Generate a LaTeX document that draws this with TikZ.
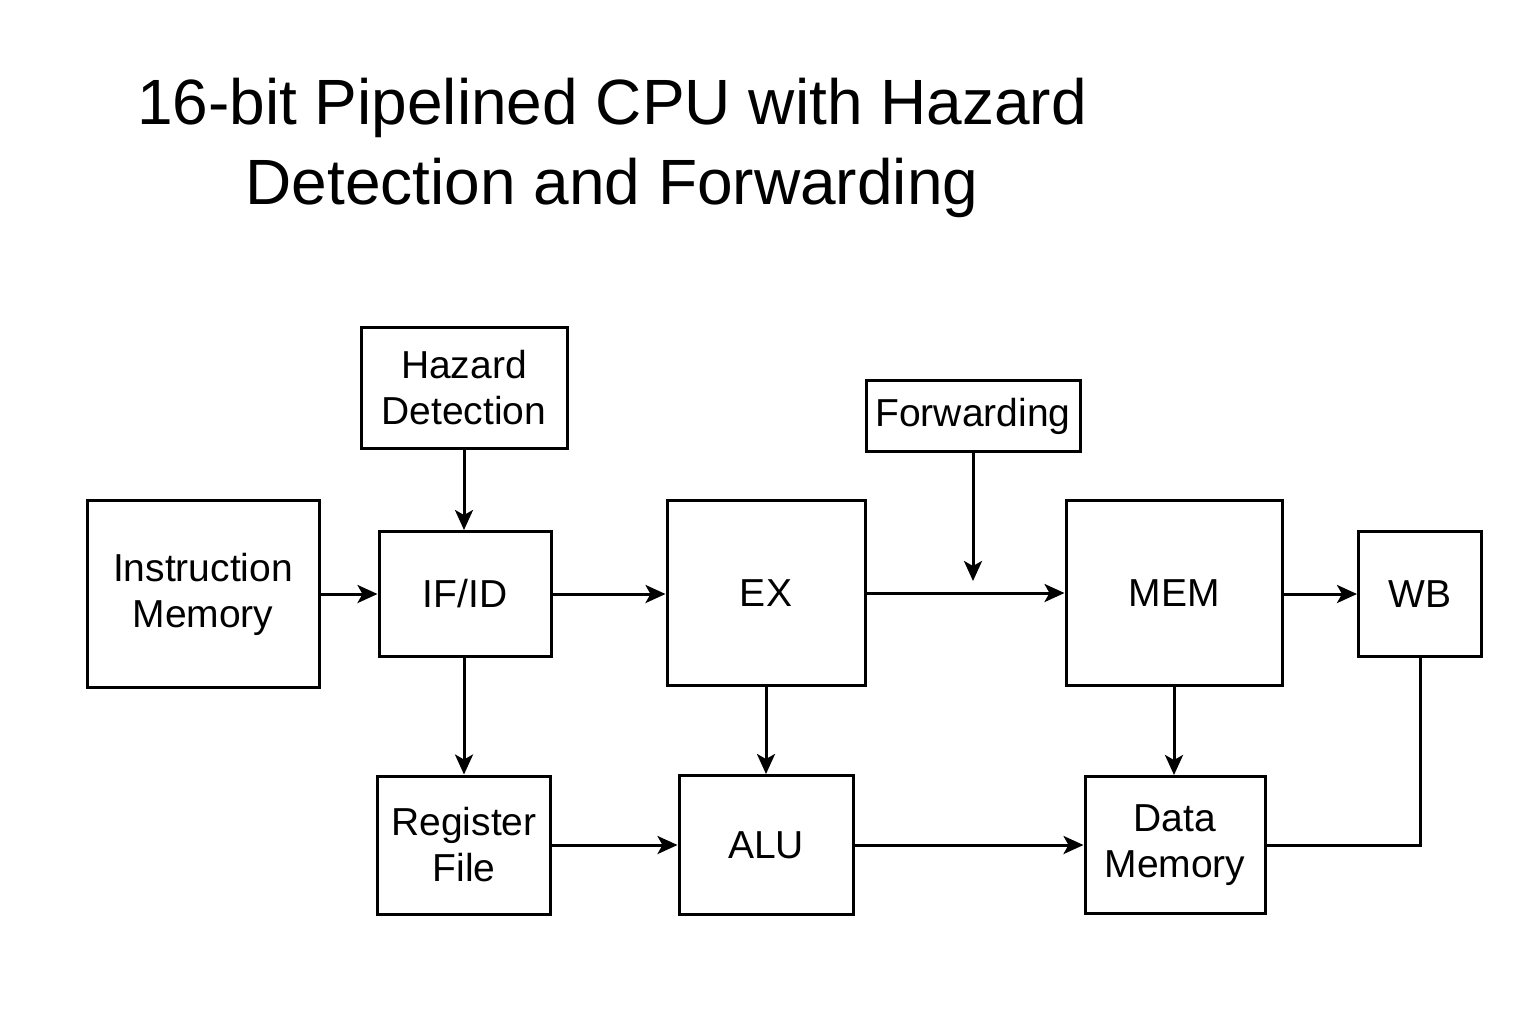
\documentclass[tikz,border=0pt]{standalone}
\usepackage{fontspec}
\setmainfont{Liberation Sans}
\usetikzlibrary{arrows.meta}
\begin{document}
\begin{tikzpicture}[x=0.5pt,y=-0.5pt,
  blk/.style={draw,line width=1.5pt,inner sep=0pt,align=center,font=\fontsize{19.5}{23}\selectfont},
  arr/.style={line width=1.5pt,-{Stealth[length=10pt,width=9pt,inset=2.5pt]}},
  ln/.style={line width=1.5pt}]
\useasboundingbox (0,0) rectangle (1536,1024);
\node[align=center,font=\fontsize{32}{40}\selectfont] (title) at (612,148) {16-bit Pipelined CPU with Hazard\\Detection and Forwarding};
\node[blk,minimum width=103pt,minimum height=60.5pt] (haz) at (464,388) {Hazard\\Detection};
\node[blk,minimum width=107pt,minimum height=35.5pt] (fwd) at (973,416) {Forwarding};
\node[blk,minimum width=116pt,minimum height=93.5pt] (im) at (203,594) {Instruction\\Memory};
\node[blk,minimum width=86pt,minimum height=62.5pt] (ifid) at (465,594) {IF/ID};
\node[blk,minimum width=99pt,minimum height=92.5pt] (ex) at (766,593) {EX};
\node[blk,minimum width=108pt,minimum height=92.5pt] (mem) at (1174,593) {MEM};
\node[blk,minimum width=61.5pt,minimum height=62.5pt] (wb) at (1420,594) {WB};
\node[blk,minimum width=86.5pt,minimum height=69pt] (rf) at (464,845) {Register\\File};
\node[blk,minimum width=87pt,minimum height=69.5pt] (alu) at (766,845) {ALU};
\node[blk,minimum width=90pt,minimum height=68.5pt] (dm) at (1175,845) {Data\\Memory};
\coordinate (fwdend) at (973,581);
\draw[arr] (im.east |- ifid) -- (ifid.west);
\draw[arr] (haz.south) -- (haz.south |- ifid.north);
\draw[arr] (ifid.east) -- (ifid.east -| ex.west);
\draw[arr] (ex.east) -- (ex.east -| mem.west);
\draw[arr] (fwd.south) -- (fwdend);
\draw[arr] (mem.east |- wb) -- (wb.west);
\draw[arr] (ifid.south -| rf) -- (rf.north);
\draw[arr] (ex.south) -- (alu.north);
\draw[arr] (mem.south) -- (mem.south |- dm.north);
\draw[arr] (rf.east) -- (alu.west);
\draw[arr] (alu.east) -- (dm.west);
\draw[ln] (wb.south) |- (dm.east);
\end{tikzpicture}
\end{document}
